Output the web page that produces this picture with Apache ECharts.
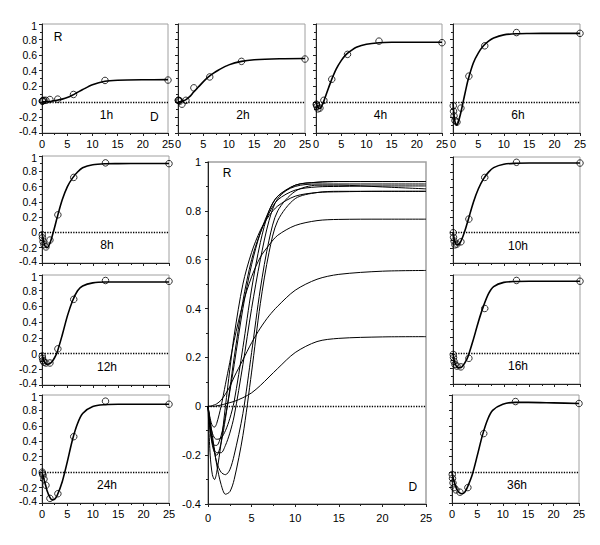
<!DOCTYPE html>
<html>
<head>
<meta charset="utf-8">
<script src="https://cdn.jsdelivr.net/npm/echarts@6/dist/echarts.min.js"></script>
<style>
html,body{margin:0;padding:0;background:#fff;}
#chart{width:600px;height:545px;}
</style>
</head>
<body>
<div id="chart"></div>
<script>
// ---------- data ----------
const PANELS = ['1h','2h','4h','6h','8h','10h','12h','16h','24h','36h'];
const CURVE_X = [0, 0.25, 0.5, 0.75, 1, 1.5, 2, 2.5, 3, 4, 5, 6, 7, 8, 10, 12.5, 15, 20, 25];
const PT_X = [0.05, 0.1, 0.2, 0.39, 0.78, 1.56, 3.125, 6.25, 12.5, 25];
const X_TICKS = [0, 5, 10, 15, 20, 25];
const Y_TICKS = [-0.4, -0.2, 0, 0.2, 0.4, 0.6, 0.8, 1];

const curve_1h  = [0, 0, 0, 0, 0.002, 0.005, 0.01, 0.015, 0.02, 0.035, 0.055, 0.085, 0.12, 0.155, 0.22, 0.265, 0.278, 0.284, 0.285];
const curve_2h  = [0, 0, 0.003, 0.006, 0.01, 0.025, 0.05, 0.08, 0.12, 0.19, 0.26, 0.32, 0.37, 0.41, 0.475, 0.52, 0.54, 0.553, 0.556];
const curve_4h  = [0, -0.05, -0.08, -0.085, -0.07, 0, 0.09, 0.18, 0.27, 0.42, 0.53, 0.61, 0.66, 0.7, 0.74, 0.76, 0.765, 0.766, 0.766];
const curve_6h  = [0, -0.2, -0.28, -0.3, -0.27, -0.15, 0, 0.15, 0.29, 0.5, 0.63, 0.72, 0.78, 0.82, 0.86, 0.875, 0.878, 0.88, 0.88];
const curve_8h  = [0, -0.1, -0.16, -0.19, -0.2, -0.15, -0.05, 0.07, 0.2, 0.43, 0.6, 0.71, 0.79, 0.845, 0.885, 0.898, 0.9, 0.902, 0.902];
const curve_10h = [0, -0.09, -0.14, -0.16, -0.16, -0.12, -0.04, 0.06, 0.17, 0.4, 0.58, 0.71, 0.8, 0.86, 0.905, 0.917, 0.92, 0.92, 0.92];
const curve_12h = [0, -0.07, -0.11, -0.13, -0.135, -0.13, -0.1, -0.05, 0.02, 0.24, 0.48, 0.67, 0.8, 0.86, 0.9, 0.91, 0.91, 0.91, 0.91];
const curve_16h = [0, -0.1, -0.15, -0.18, -0.19, -0.19, -0.16, -0.11, -0.04, 0.17, 0.4, 0.6, 0.76, 0.85, 0.905, 0.917, 0.92, 0.92, 0.92];
const curve_24h = [0, -0.06, -0.12, -0.18, -0.24, -0.32, -0.36, -0.35, -0.3, -0.12, 0.14, 0.42, 0.63, 0.76, 0.85, 0.875, 0.88, 0.88, 0.88];
const curve_36h = [0, -0.08, -0.14, -0.19, -0.23, -0.27, -0.28, -0.26, -0.2, -0.03, 0.22, 0.48, 0.68, 0.8, 0.88, 0.905, 0.905, 0.898, 0.89];

const pts_1h  = [0.01, 0.01, 0.015, 0.02, 0.02, 0.03, 0.035, 0.095, 0.275, 0.28];
const pts_2h  = [0.02, 0.02, 0.015, 0.01, -0.03, 0.02, 0.18, 0.32, 0.52, 0.55];
const pts_4h  = [-0.03, -0.04, -0.06, -0.09, -0.08, 0.02, 0.29, 0.61, 0.78, 0.76];
const pts_6h  = [-0.05, -0.12, -0.18, -0.24, -0.26, -0.08, 0.33, 0.72, 0.89, 0.88];
const pts_8h  = [-0.03, -0.07, -0.12, -0.16, -0.19, -0.1, 0.23, 0.72, 0.91, 0.9];
const pts_10h = [0, -0.06, -0.11, -0.16, -0.15, -0.12, 0.18, 0.73, 0.93, 0.92];
const pts_12h = [-0.03, -0.06, -0.09, -0.11, -0.12, -0.12, 0.06, 0.69, 0.93, 0.92];
const pts_16h = [-0.02, -0.06, -0.11, -0.15, -0.17, -0.18, -0.07, 0.57, 0.93, 0.92];
const pts_24h = [0, -0.02, -0.04, -0.09, -0.17, -0.34, -0.28, 0.46, 0.92, 0.88];
const pts_36h = [-0.03, -0.08, -0.14, -0.2, -0.23, -0.26, -0.2, 0.5, 0.915, 0.89];

const CURVES = {'1h':curve_1h,'2h':curve_2h,'4h':curve_4h,'6h':curve_6h,'8h':curve_8h,'10h':curve_10h,'12h':curve_12h,'16h':curve_16h,'24h':curve_24h,'36h':curve_36h};
const POINTS = {'1h':pts_1h,'2h':pts_2h,'4h':pts_4h,'6h':pts_6h,'8h':pts_8h,'10h':pts_10h,'12h':pts_12h,'16h':pts_16h,'24h':pts_24h,'36h':pts_36h};

// ---------- layout ----------
const LAYOUT = {
  '1h':  {left:42,  top:24,  width:126, height:109, xl:true,  yl:true},
  '2h':  {left:178, top:24,  width:127, height:109, xl:true,  yl:false},
  '4h':  {left:316, top:24,  width:126, height:109, xl:true,  yl:false},
  '6h':  {left:453, top:24,  width:127, height:109, xl:true,  yl:false},
  '8h':  {left:42,  top:156, width:127, height:107, xl:false, yl:true},
  '12h': {left:42,  top:275, width:127, height:110, xl:false, yl:true},
  '24h': {left:42,  top:395, width:127, height:108, xl:true,  yl:true},
  '10h': {left:453, top:157, width:127, height:106, xl:false, yl:false},
  '16h': {left:453, top:275, width:127, height:109, xl:false, yl:false},
  '36h': {left:452, top:395, width:127, height:108, xl:true,  yl:false}
};
const CENTER = {left:208, top:162, width:218, height:342};

const FONT = 'Liberation Sans, Arial, Helvetica, sans-serif';
const AX = '#222';

function pairs(xs, ys){ return xs.map((x,i)=>[x, ys[i]]); }
function fmtY(v){ return String(Math.round(v*10)/10); }
// small panels: nudge the end labels apart so stacked panels' labels don't collide
function fmtYSmall(v){
  const s = fmtY(v);
  if (Math.abs(v - Y_TICKS[0]) < 1e-6) return '{lo|' + s + '}';
  if (Math.abs(v - Y_TICKS[Y_TICKS.length-1]) < 1e-6) return '{hi|' + s + '}';
  return s;
}

const grids = [], xAxes = [], yAxes = [], series = [];

function addAxes(rect, showX, showY, isCenter){
  const gi = grids.length;
  grids.push({left:rect.left, top:rect.top, width:rect.width, height:rect.height,
    show:true, borderColor:'#a0a0a0', borderWidth:1, containLabel:false});
  xAxes.push({type:'value', gridIndex:gi, min:X_TICKS[0], max:X_TICKS[X_TICKS.length-1], interval:5,
    axisLine:{show:true, onZero:false, lineStyle:{color:AX, width:1}},
    axisTick:{show:true, length:3, lineStyle:{color:AX}},
    minorTick:{show:true, splitNumber:2, length:2, lineStyle:{color:AX}},
    splitLine:{show:false},
    axisLabel:{show:showX, color:'#000', fontSize:11, fontFamily:FONT, margin:isCenter?8:5}});
  const lab = {show:showY, color:'#000', fontSize:isCenter?11:10.5, fontFamily:FONT,
    margin:isCenter?7:5, formatter:isCenter?fmtY:fmtYSmall};
  if (!isCenter) {
    lab.rich = {
      lo:{fontSize:10.5, fontFamily:FONT, color:'#000', padding:[0,0,4,0]},
      hi:{fontSize:10.5, fontFamily:FONT, color:'#000', padding:[4,0,0,0]}
    };
  }
  yAxes.push({type:'value', gridIndex:gi, min:Y_TICKS[0], max:Y_TICKS[Y_TICKS.length-1], interval:0.2,
    axisLine:{show:true, onZero:false, lineStyle:{color:AX, width:1}},
    axisTick:{show:true, length:3, lineStyle:{color:AX}},
    minorTick:{show:true, splitNumber:2, length:2, lineStyle:{color:AX}},
    splitLine:{show:false},
    axisLabel:lab});
  return gi;
}

const zeroLine = {silent:true, symbol:['none','none'], label:{show:false},
  lineStyle:{type:'dotted', color:'#000', width:1.3}, data:[{yAxis:0}]};

const panelIdx = {};
PANELS.forEach(p=>{
  const L = LAYOUT[p];
  const gi = addAxes(L, L.xl, L.yl, false);
  panelIdx[p] = gi;
  series.push({type:'line', xAxisIndex:gi, yAxisIndex:gi, data:pairs(CURVE_X, CURVES[p]),
    smooth:0.3, showSymbol:false, silent:true,
    lineStyle:{color:'#000', width:1.6}, markLine:zeroLine, z:3});
  series.push({type:'scatter', xAxisIndex:gi, yAxisIndex:gi, data:pairs(PT_X, POINTS[p]),
    symbol:'circle', symbolSize:6.5, silent:true,
    itemStyle:{color:'rgba(255,255,255,0)', borderColor:'#000', borderWidth:1}, z:4});
});

const ci = addAxes(CENTER, true, true, true);
PANELS.forEach((p, k)=>{
  series.push({type:'line', xAxisIndex:ci, yAxisIndex:ci, data:pairs(CURVE_X, CURVES[p]),
    smooth:0.3, showSymbol:false, silent:true,
    lineStyle:{color:'#000', width:1}, markLine: k===0 ? zeroLine : undefined});
});
grids[ci].borderWidth = 1.5;

const chart = echarts.init(document.getElementById('chart'), null, {renderer:'svg'});
chart.setOption({
  animation:false,
  backgroundColor:'#fff',
  grid:grids, xAxis:xAxes, yAxis:yAxes, series:series
});

// text labels placed in data coordinates
const txt = [];
function addText(gi, coord, text){
  const pt = chart.convertToPixel({gridIndex:gi}, coord);
  txt.push({type:'text', x:pt[0], y:pt[1], silent:true, z:10,
    style:{text:text, fill:'#000', font:'12px '+FONT, textAlign:'center', textVerticalAlign:'middle'}});
}
PANELS.forEach(p=> addText(panelIdx[p], [12.8, -0.17], p));
addText(panelIdx['1h'], [3.2, 0.83], 'R');
addText(panelIdx['1h'], [22.3, -0.2], 'D');
addText(ci, [2.2, 0.955], 'R');
addText(ci, [23.5, -0.33], 'D');
chart.setOption({graphic:txt});
</script>
</body>
</html>
